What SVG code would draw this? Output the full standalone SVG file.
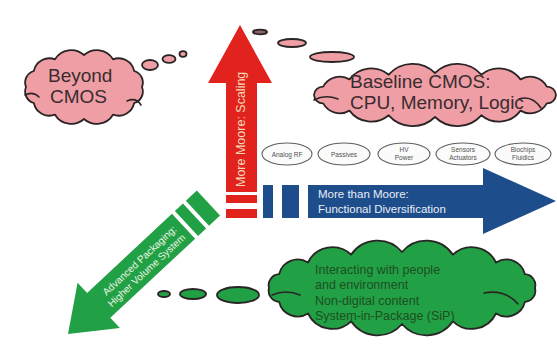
<svg xmlns="http://www.w3.org/2000/svg" width="557" height="348" viewBox="0 0 557 348">
<style>
.cloud{stroke:#2a2424;stroke-width:1.8;stroke-linejoin:round}
.pink{fill:#ef9ea6}
.green{fill:#22a045}
.curl{fill:none;stroke:#2a2424;stroke-width:1.6;stroke-linecap:round}
.big{font-family:"Liberation Sans",Arial,sans-serif;font-size:19px;fill:#3a2c2e}
.oval{fill:#fbfbfb;stroke:#5e5e5e;stroke-width:1.1}
.otext{font-family:"Liberation Sans",Arial,sans-serif;font-size:6.5px;fill:#505050;text-anchor:middle}
.gtext{font-family:"Liberation Sans",Arial,sans-serif;font-size:12.5px;fill:#1d4f22}
.wtext{font-family:"Liberation Sans",Arial,sans-serif;fill:#e8eef6}
</style>
<rect width="557" height="348" fill="#ffffff"/>

<g id="connectors">
  <ellipse class="cloud pink" cx="150" cy="65" rx="8" ry="5"/>
  <ellipse class="cloud pink" cx="169" cy="59" rx="6.5" ry="3.8"/>
  <ellipse class="cloud pink" cx="183" cy="54" rx="3.5" ry="2.8"/>
  <ellipse class="cloud" fill="#8a6466" cx="260" cy="32" rx="7" ry="2.3"/>
  <ellipse class="cloud pink" cx="292" cy="43" rx="14" ry="4"/>
  <ellipse class="cloud pink" cx="332" cy="57" rx="22" ry="5"/>
  <ellipse class="cloud green" cx="164" cy="294" rx="6" ry="3"/>
  <ellipse class="cloud green" cx="193" cy="294" rx="13" ry="5"/>
  <ellipse class="cloud green" cx="238" cy="295" rx="21" ry="8"/>
</g>

<g id="more-moore">
  <path d="M240,25 L272,83 L257,83 L257,192 L226,192 L226,83 L208,83 Z" fill="#e2231d"/>
  <rect x="226" y="195" width="31" height="8" fill="#e2231d"/>
  <rect x="226" y="209" width="31" height="9" fill="#e2231d"/>
  <text class="wtext" style="fill:#f6d9b4;font-size:12.5px" transform="translate(245,187) rotate(-90)">More Moore: Scaling</text>
</g>

<g id="more-than-moore">
  <rect x="263" y="185" width="10" height="33" fill="#1e4d8c"/>
  <rect x="282" y="185" width="17" height="33" fill="#1e4d8c"/>
  <path d="M308,185 L483,185 L483,168 L556,201 L483,234 L483,218 L308,218 Z" fill="#1e4d8c"/>
  <text class="wtext" style="font-size:11.5px" x="318" y="198">More than Moore:</text>
  <text class="wtext" style="font-size:11.5px" x="318" y="213">Functional Diversification</text>
</g>

<g id="advanced-packaging" transform="translate(68,334) rotate(-43)">
  <path d="M0,0 L42,-31 L42,-17 L158,-17 L158,17 L42,17 L42,31 Z" fill="#22a045"/>
  <rect x="162" y="-17" width="11" height="34" fill="#22a045"/>
  <rect x="177" y="-17" width="15" height="34" fill="#22a045"/>
  <text class="wtext" style="fill:#eaf6e4;font-size:10px" x="54" y="-1.5">Advanced Packaging:</text>
  <text class="wtext" style="fill:#eaf6e4;font-size:10px" x="50" y="10.5">Higher Volume System</text>
</g>

<g id="beyond-cmos">
  <path class="cloud pink" d="M142,87 A12,12 0 0 1 134.2,103 A16,16 0 0 1 113,114.7 A19,19 0 0 1 84,119 A19,19 0 0 1 55,114.7 A16,16 0 0 1 33.8,103 A12,12 0 0 1 26,87 A12,12 0 0 1 33.8,71 A16,16 0 0 1 55,59.3 A19,19 0 0 1 84,55 A19,19 0 0 1 113,59.3 A16,16 0 0 1 134.2,71 A12,12 0 0 1 142,87 Z"/>
  <path class="curl" d="M25,95 Q33,91 39,97"/>
  <path class="curl" d="M127,101 Q136,97 141,105"/>
  <text class="big" x="48" y="82">Beyond</text>
  <text class="big" x="50" y="103">CMOS</text>
</g>

<g id="baseline-cmos">
  <path class="cloud pink" d="M556,95 A9,9 0 0 1 546.8,103.4 A19,19 0 0 1 520.5,110.6 A27,27 0 0 1 481.3,115.3 A32,32 0 0 1 435,117 A32,32 0 0 1 388.7,115.3 A27,27 0 0 1 349.5,110.6 A19,19 0 0 1 323.2,103.4 A9,9 0 0 1 314,95 A9,9 0 0 1 323.2,86.6 A19,19 0 0 1 349.5,79.4 A27,27 0 0 1 388.7,74.7 A32,32 0 0 1 435,73 A32,32 0 0 1 481.3,74.7 A27,27 0 0 1 520.5,79.4 A19,19 0 0 1 546.8,86.6 A9,9 0 0 1 556,95 Z"/>
  <path class="curl" d="M314,100 Q325,94 338,99"/>
  <path class="curl" d="M519,99 Q532,95 541,108"/>
  <text class="big" x="350" y="88">Baseline CMOS:</text>
  <text class="big" x="350" y="109">CPU, Memory, Logic</text>
</g>

<g id="analog-rf"><ellipse class="oval" cx="287" cy="154" rx="25" ry="11"/><text class="otext" x="287" y="157">Analog RF</text></g>
<g id="passives"><ellipse class="oval" cx="344" cy="154" rx="26" ry="11"/><text class="otext" x="344" y="157">Passives</text></g>
<g id="hv-power"><ellipse class="oval" cx="404" cy="154" rx="26" ry="11"/><text class="otext" x="404" y="152">HV</text><text class="otext" x="404" y="160">Power</text></g>
<g id="sensors-actuators"><ellipse class="oval" cx="463" cy="154" rx="27" ry="11"/><text class="otext" x="463" y="152">Sensors</text><text class="otext" x="463" y="160">Actuators</text></g>
<g id="biochips-fluidics"><ellipse class="oval" cx="523" cy="154" rx="28" ry="11"/><text class="otext" x="523" y="152">Biochips</text><text class="otext" x="523" y="160">Fluidics</text></g>

<g id="interacting">
  <path class="cloud green" d="M535,288 A11,11 0 0 1 524.9,301.8 A19,19 0 0 1 496,313.5 A27,27 0 0 1 452.9,321.3 A32,32 0 0 1 402,324 A32,32 0 0 1 351.1,321.3 A27,27 0 0 1 308,313.5 A19,19 0 0 1 279.1,301.8 A11,11 0 0 1 269,288 A11,11 0 0 1 279.1,274.2 A19,19 0 0 1 308,262.5 A27,27 0 0 1 351.1,254.7 A32,32 0 0 1 402,252 A32,32 0 0 1 452.9,254.7 A27,27 0 0 1 496,262.5 A19,19 0 0 1 524.9,274.2 A11,11 0 0 1 535,288 Z"/>
  <path class="curl" d="M272,295 Q286,289 300,295"/>
  <path class="curl" d="M484,293 Q505,289 518,304"/>
  <text class="gtext" x="315" y="274">Interacting with people</text>
  <text class="gtext" x="315" y="289">and environment</text>
  <text class="gtext" x="315" y="305">Non-digital content</text>
  <text class="gtext" x="315" y="320">System-in-Package (SiP)</text>
</g>
</svg>
